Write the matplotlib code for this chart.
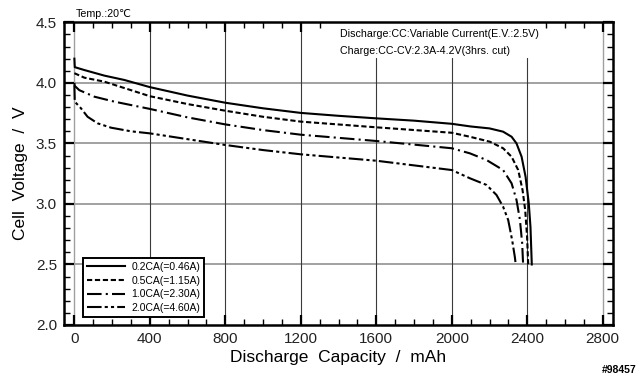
import matplotlib
matplotlib.use("Agg")
import matplotlib.pyplot as plt
from matplotlib.patches import Rectangle
from matplotlib.ticker import MultipleLocator, FormatStrFormatter

plt.rcParams["font.family"] = ["Liberation Sans", "DejaVu Sans"]

# discharge curves (capacity in mAh, voltage in V)
cap_02 = [0, 2, 53, 159, 265, 400, 600, 800, 1000, 1200, 1400, 1600, 1800, 2000, 2100, 2200,
          2272, 2317, 2343, 2370, 2391, 2408, 2417, 2424]
volt_02 = [4.20, 4.13, 4.106, 4.06, 4.024, 3.965, 3.895, 3.836, 3.79, 3.752, 3.728, 3.707, 3.688, 3.662,
           3.64, 3.624, 3.597, 3.555, 3.50, 3.39, 3.225, 3.005, 2.81, 2.50]

cap_05 = [0, 53, 159, 400, 600, 800, 1000, 1200, 1600, 2000, 2096, 2202, 2272, 2317, 2352, 2375,
          2389, 2399, 2405]
volt_05 = [4.08, 4.043, 4.01, 3.89, 3.825, 3.77, 3.72, 3.68, 3.633, 3.588, 3.555, 3.514, 3.46, 3.39,
           3.28, 3.115, 2.95, 2.73, 2.50]

cap_10 = [0, 2, 26, 106, 212, 400, 600, 800, 1000, 1200, 1600, 2000, 2096, 2184, 2272, 2317, 2343,
          2361, 2373, 2378]
volt_10 = [4.00, 3.975, 3.94, 3.886, 3.845, 3.785, 3.715, 3.657, 3.61, 3.572, 3.52, 3.46, 3.418, 3.363,
           3.28, 3.17, 3.033, 2.87, 2.675, 2.50]

cap_20 = [0, 2, 35, 70, 123, 194, 300, 400, 600, 800, 1000, 1200, 1600, 2000, 2096, 2184, 2237, 2272,
          2299, 2320, 2334, 2339]
volt_20 = [3.98, 3.845, 3.79, 3.72, 3.666, 3.63, 3.60, 3.583, 3.535, 3.487, 3.445, 3.41, 3.357, 3.28,
           3.212, 3.157, 3.074, 2.977, 2.867, 2.70, 2.564, 2.50]

labels = ["0.2CA(=0.46A)", "0.5CA(=1.15A)", "1.0CA(=2.30A)", "2.0CA(=4.60A)"]
styles = ["-", (0, (2.5, 1.3)), (0, (7, 2, 1, 2)), (0, (7, 1.5, 1.5, 1.5, 1.5, 1.5))]

fig = plt.figure(figsize=(6.4, 3.79), dpi=100)
ax = fig.add_axes([0.1, 0.1425, 0.858, 0.7985])

series = [(cap_02, volt_02), (cap_05, volt_05), (cap_10, volt_10), (cap_20, volt_20)]
for (cap, volt), lab, ls in zip(series, labels, styles):
    ax.plot(cap, volt, color="black", lw=1.5, ls=ls, label=lab, zorder=3)

ax.set_xlim(-55, 2855)
ax.set_ylim(2.0, 4.5)

# grid: light horizontal, dark vertical, light at the x ends
for y in [2.5, 3.0, 3.5, 4.0]:
    ax.axhline(y, color="#9a9a9a", lw=1.3, zorder=1)
for x in [400, 800, 1200, 1600, 2000, 2400]:
    ax.axvline(x, color="#3a3a3a", lw=0.8, zorder=1)
for x in [0, 2800]:
    ax.axvline(x, color="#a0a0a0", lw=1.0, zorder=1)

# white area behind the test conditions text
ax.add_patch(Rectangle((0.494, 0.882), 0.375, 0.118, transform=ax.transAxes,
                       facecolor="white", edgecolor="none", zorder=2))
ax.text(0.502, 0.96, "Discharge:CC:Variable Current(E.V.:2.5V)", transform=ax.transAxes,
        fontsize=7.7, va="center", ha="left", zorder=4)
ax.text(0.502, 0.906, "Charge:CC-CV:2.3A-4.2V(3hrs. cut)", transform=ax.transAxes,
        fontsize=7.7, va="center", ha="left", zorder=4)

fig.text(0.118, 0.962, "Temp.:20\u2103", fontsize=7.7, va="center", ha="left")

ax.xaxis.set_major_locator(MultipleLocator(400))
ax.xaxis.set_minor_locator(MultipleLocator(100))
ax.yaxis.set_major_locator(MultipleLocator(0.5))
ax.yaxis.set_minor_locator(MultipleLocator(0.1))
ax.yaxis.set_major_formatter(FormatStrFormatter("%.1f"))
ax.tick_params(which="both", direction="in", top=True, right=True)
ax.tick_params(which="major", length=7, width=1.6, labelsize=11, labelcolor="#222222", pad=5)
ax.tick_params(which="minor", length=4, width=1.0)
for sp in ax.spines.values():
    sp.set_linewidth(1.8)

ax.set_xlabel("Discharge  Capacity  /  mAh", fontsize=12.5, labelpad=3)
ax.set_ylabel("Cell  Voltage  /  V", fontsize=12.5, labelpad=6)

leg = ax.legend(loc="lower left", bbox_to_anchor=(0.035, 0.026), borderaxespad=0,
                fontsize=7.5, handlelength=3.6, handletextpad=0.6, labelspacing=0.35,
                borderpad=0.4, fancybox=False, framealpha=1, edgecolor="black")
leg.get_frame().set_linewidth(1.4)
leg.set_zorder(5)

fig.text(0.995, 0.025, "#98457", fontsize=7.5, fontweight="bold", ha="right", va="center")

fig.savefig("out.png", dpi=100)
